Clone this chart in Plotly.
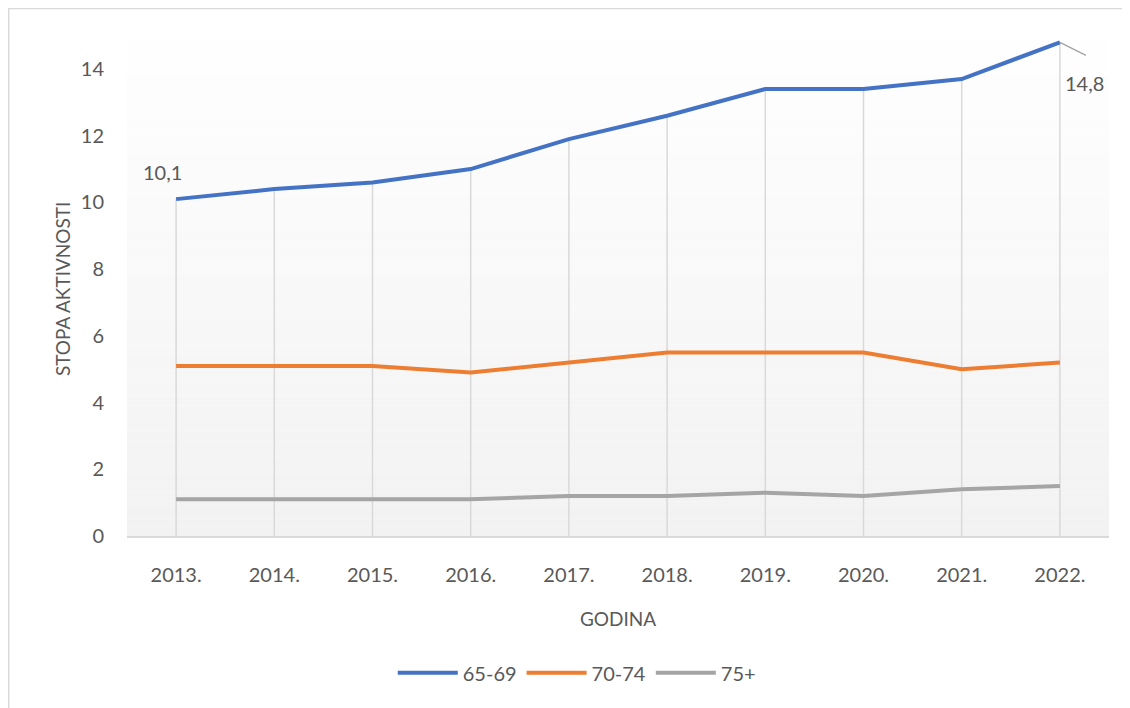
import plotly.graph_objects as go

years = ["2013.", "2014.", "2015.", "2016.", "2017.", "2018.", "2019.", "2020.", "2021.", "2022."]
s_65_69 = [10.1, 10.4, 10.6, 11.0, 11.9, 12.6, 13.4, 13.4, 13.7, 14.8]
s_70_74 = [5.1, 5.1, 5.1, 4.9, 5.2, 5.5, 5.5, 5.5, 5.0, 5.2]
s_75 = [1.1, 1.1, 1.1, 1.1, 1.2, 1.2, 1.3, 1.2, 1.4, 1.5]
names = ["65-69", "70-74", "75+"]
colors = ["#4472C4", "#ED7D31", "#A5A5A5"]

FONT = "Lato"
TXT = "#595959"

series = [s_65_69, s_70_74, s_75]

fig = go.Figure()

# Excel-style drop lines: from the category axis up to the highest series point
drop_x, drop_y = [], []
for i, yr in enumerate(years):
    top = max(s[i] for s in series)
    drop_x += [yr, yr, None]
    drop_y += [0, top, None]
fig.add_trace(go.Scatter(x=drop_x, y=drop_y, mode="lines", showlegend=False,
                         line=dict(color="#D9D9D9", width=1.5), hoverinfo="skip"))

for name, vals, col in zip(names, series, colors):
    fig.add_trace(go.Scatter(x=years, y=vals, name=name, mode="lines",
                             line=dict(color=col, width=4), hoverinfo="skip"))

# gradient plot background (white top -> light gray bottom)
shapes = []
n = 60
for i in range(n):
    t = i / (n - 1)
    c = int(round(255 - (255 - 242) * (1 - t)))
    shapes.append(dict(type="rect", xref="paper", yref="paper",
                       x0=0, x1=1, y0=i / n, y1=(i + 1) / n,
                       fillcolor=f"rgb({c},{c},{c})", line=dict(width=0),
                       layer="below"))
# outer chart border
shapes.append(dict(type="rect", xref="paper", yref="paper",
                   x0=-0.1205, x1=1.05, y0=-0.4, y1=1.0105,
                   line=dict(color="#D9D9D9", width=1.5), fillcolor="rgba(0,0,0,0)",
                   layer="above"))

first, last = 0, len(years) - 1
annotations = [
    dict(x=first, y=s_65_69[first], text=f"{s_65_69[first]}".replace(".", ","), showarrow=False,
         xshift=-14, yshift=27, font=dict(family=FONT, size=20, color=TXT)),
    dict(x=last, y=s_65_69[last], text=" ", showarrow=True, arrowhead=0,
         arrowwidth=1.5, arrowcolor="#A5A5A5", ax=30, ay=15, standoff=0,
         startstandoff=0),
    dict(x=last, y=s_65_69[last], text=f"{s_65_69[last]}".replace(".", ","),
         showarrow=False, xshift=25, yshift=-41,
         font=dict(family=FONT, size=20, color=TXT)),
    dict(xref="paper", yref="paper", x=-0.0662, y=0.473, text="STOPA AKTIVNOSTI",
         textangle=-90, showarrow=False, xanchor="center", yanchor="middle",
         font=dict(family=FONT, size=19, color=TXT)),
]

fig.update_layout(
    width=1122, height=700,
    margin=dict(l=119, r=21, t=6, b=172, autoexpand=False),
    paper_bgcolor="white", plot_bgcolor="rgba(0,0,0,0)",
    font=dict(family=FONT, size=20, color=TXT),
    shapes=shapes, annotations=annotations,
    showlegend=True,
    legend=dict(orientation="h", x=0.458, xanchor="center", y=-0.262, yanchor="middle",
                font=dict(family=FONT, size=20, color=TXT), itemwidth=60,
                bgcolor="rgba(0,0,0,0)"),
    xaxis=dict(type="category", range=[-0.5, len(years) - 0.5],
               showgrid=False,
               showline=True, linecolor="#D9D9D9", linewidth=1.5,
               ticks="", ticklabelstandoff=20,
               title=dict(text="GODINA", font=dict(family=FONT, size=19, color=TXT), standoff=28),
               tickfont=dict(family=FONT, size=20, color=TXT), fixedrange=True),
    yaxis=dict(range=[0, 15.65], tickvals=[0, 2, 4, 6, 8, 10, 12, 14],
               showgrid=False, zeroline=False, showline=False,
               ticks="", ticklabelstandoff=22,
               tickfont=dict(family=FONT, size=20, color=TXT), fixedrange=True),
)

fig.write_html("out.html")
